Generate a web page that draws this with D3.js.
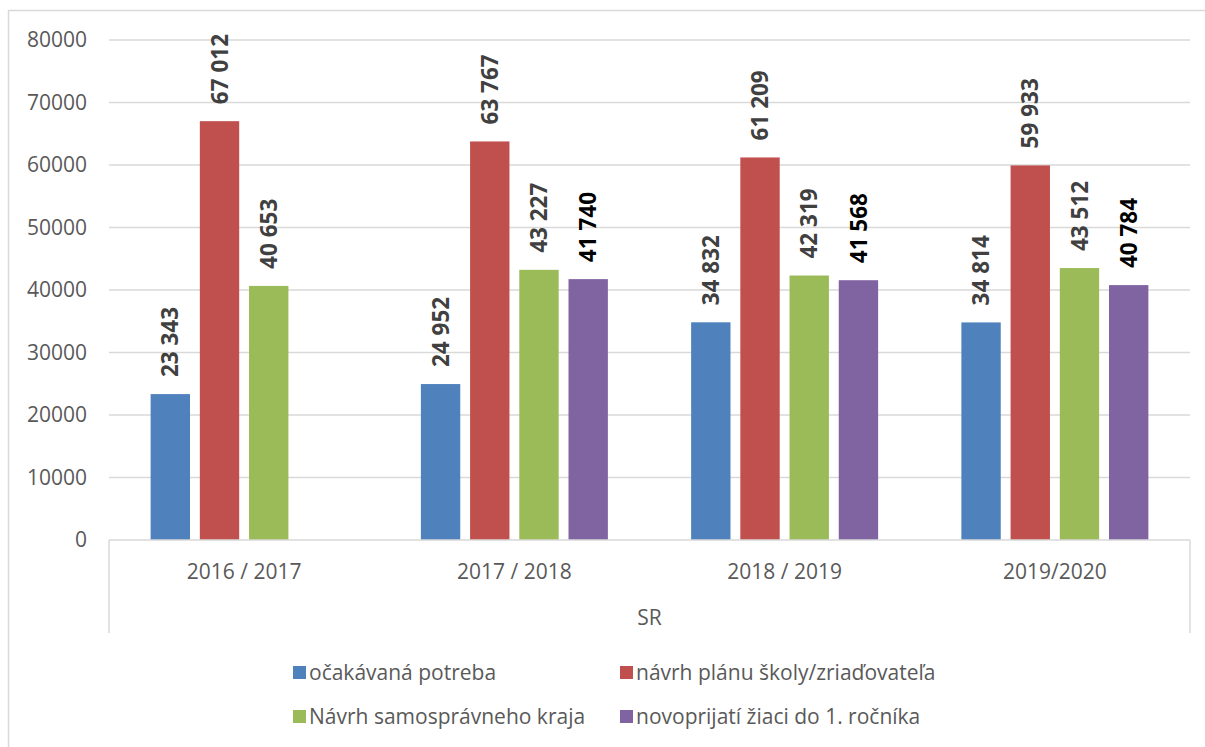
<!DOCTYPE html>
<html>
<head>
<meta charset="utf-8">
<script src="https://cdn.jsdelivr.net/npm/d3@7"></script>
<style>
  body { margin: 0; background: #fff; }
  text { font-family: "Open Sans", sans-serif; }
</style>
</head>
<body>
<div id="chart"></div>
<script>
// data
var categories = ["2016 / 2017", "2017 / 2018", "2018 / 2019", "2019/2020"];
var seriesNames = ["očakávaná potreba", "návrh plánu školy/zriaďovateľa",
                   "Návrh samosprávneho kraja", "novoprijatí žiaci do 1. ročníka"];
var ocakavana = [23343, 24952, 34832, 34814];
var navrhSkoly = [67012, 63767, 61209, 59933];
var navrhKraja = [40653, 43227, 42319, 43512];
var novoprijati = [null, 41740, 41568, 40784];
var yTicks = [0, 10000, 20000, 30000, 40000, 50000, 60000, 70000, 80000];
var groupLabel = "SR";

var seriesValues = [ocakavana, navrhSkoly, navrhKraja, novoprijati];
var colors = ["#4f81bd", "#c0504d", "#9bbb59", "#8064a2"];
var labelColors = ["#404040", "#404040", "#404040", "#000000"];

var W = 1205, H = 747;
var plot = { left: 109, right: 1190, top: 40, bottom: 540 };

var svg = d3.select("#chart")
    .append("svg")
    .attr("width", W)
    .attr("height", H);

// outer chart border (runs off the picture on right and bottom)
svg.append("rect")
    .attr("x", 8.5).attr("y", 10.5)
    .attr("width", W + 20).attr("height", H + 20)
    .attr("fill", "none")
    .attr("stroke", "#d9d9d9")
    .attr("stroke-width", 1.5);

var y = d3.scaleLinear()
    .domain([0, 80000])
    .range([plot.bottom, plot.top]);

var x0 = d3.scaleBand()
    .domain(categories)
    .range([plot.left, plot.right]);

var half = 93.5;
var x1 = d3.scaleBand()
    .domain(d3.range(seriesNames.length))
    .range([x0.bandwidth() / 2 - half, x0.bandwidth() / 2 + half])
    .paddingInner(0.2);

// gridlines
svg.append("g")
    .selectAll("line")
    .data(yTicks.filter(function (d) { return d > 0; }))
    .enter().append("line")
    .attr("x1", plot.left).attr("x2", plot.right)
    .attr("y1", function (d) { return y(d); })
    .attr("y2", function (d) { return y(d); })
    .attr("stroke", "#d9d9d9")
    .attr("stroke-width", 1.5);

// y axis labels
var yAxis = svg.append("g")
    .attr("transform", "translate(" + plot.left + ",0)")
    .call(d3.axisLeft(y).tickValues(yTicks).tickFormat(d3.format("d")).tickSize(0).tickPadding(22));
yAxis.select(".domain").remove();
yAxis.selectAll("text")
    .attr("font-family", "Open Sans, sans-serif")
    .attr("font-size", 21)
    .attr("fill", "#595959");

// bars
var rows = categories.map(function (c, i) {
    return { cat: c, values: seriesValues.map(function (s, j) { return { s: j, v: s[i] }; }) };
});

var groups = svg.append("g")
    .selectAll("g")
    .data(rows)
    .enter().append("g")
    .attr("transform", function (d) { return "translate(" + x0(d.cat) + ",0)"; });

groups.selectAll("rect")
    .data(function (d) { return d.values.filter(function (e) { return e.v != null; }); })
    .enter().append("rect")
    .attr("x", function (d) { return x1(d.s); })
    .attr("y", function (d) { return y(d.v); })
    .attr("width", x1.bandwidth())
    .attr("height", function (d) { return plot.bottom - y(d.v); })
    .attr("fill", function (d) { return colors[d.s]; });

var fmt = function (v) { return d3.format(",")(v).replace(/,/g, " "); };

groups.selectAll("text.val")
    .data(function (d) { return d.values.filter(function (e) { return e.v != null; }); })
    .enter().append("text")
    .attr("class", "val")
    .attr("transform", function (d) {
        return "translate(" + (x1(d.s) + x1.bandwidth() / 2) + "," + (y(d.v) - 17) + ") rotate(-90)";
    })
    .attr("dy", "0.36em")
    .attr("font-size", 22.5)
    .attr("font-weight", "bold")
    .attr("fill", function (d) { return labelColors[d.s]; })
    .text(function (d) { return fmt(d.v); });

// category axis
var axisColor = "#d9d9d9";
svg.append("line")
    .attr("x1", plot.left).attr("x2", plot.right)
    .attr("y1", plot.bottom).attr("y2", plot.bottom)
    .attr("stroke", axisColor).attr("stroke-width", 1.5);
[plot.left, plot.right].forEach(function (xx) {
    svg.append("line")
        .attr("x1", xx).attr("x2", xx)
        .attr("y1", plot.bottom).attr("y2", 633)
        .attr("stroke", axisColor).attr("stroke-width", 1.5);
});

svg.append("g")
    .selectAll("text")
    .data(categories)
    .enter().append("text")
    .attr("x", function (d) { return x0(d) + x0.bandwidth() / 2; })
    .attr("y", 572)
    .attr("dy", "0.35em")
    .attr("text-anchor", "middle")
    .attr("font-size", 21)
    .attr("fill", "#595959")
    .text(function (d) { return d; });

svg.append("text")
    .attr("x", (plot.left + plot.right) / 2)
    .attr("y", 618)
    .attr("dy", "0.35em")
    .attr("text-anchor", "middle")
    .attr("font-size", 21)
    .attr("fill", "#595959")
    .text(groupLabel);

// legend, 2 columns
var legendPos = [[293, 673], [620, 673], [293, 717], [620, 717]];
var legend = svg.append("g")
    .selectAll("g")
    .data(seriesNames)
    .enter().append("g")
    .attr("transform", function (d, i) { return "translate(" + legendPos[i][0] + "," + legendPos[i][1] + ")"; });

legend.append("rect")
    .attr("x", 0).attr("y", -7)
    .attr("width", 13).attr("height", 13)
    .attr("fill", function (d, i) { return colors[i]; });

legend.append("text")
    .attr("x", 16)
    .attr("dy", "0.35em")
    .attr("font-size", 21)
    .attr("fill", "#595959")
    .text(function (d) { return d; });
</script>
</body>
</html>
